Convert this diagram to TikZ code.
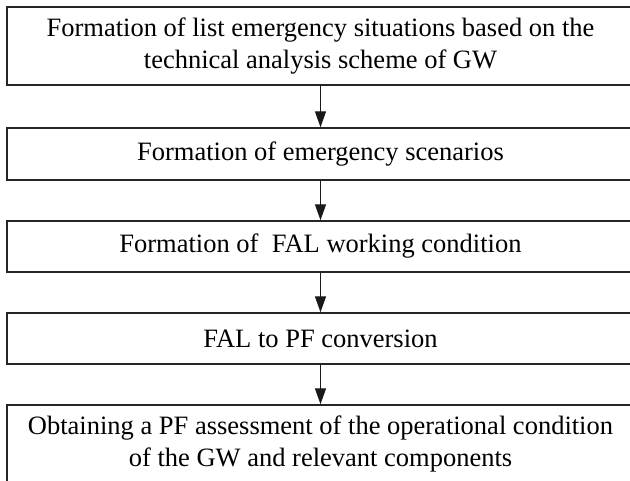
\documentclass[tikz,border=0pt]{standalone}
\usepackage{fontspec}
\setmainfont{Liberation Serif}
\usetikzlibrary{arrows.meta}
\begin{document}
\begin{tikzpicture}[x=1pt,y=-1pt,
  stepbox/.style={draw=black!85,line width=1.4pt,rectangle,minimum width=627pt,inner sep=0pt,align=center,
    font=\fontsize{26.5}{32}\selectfont},
  flow/.style={draw=black!90,line width=1.3pt,-{Triangle[length=16pt,width=11pt]}}]
\useasboundingbox (0,0) rectangle (630,481);
\clip (0,0) rectangle (630,481);
\node[stepbox,minimum height=78pt] (b1) at (320.5,46) {Formation of list emergency situations based on the\\technical analysis scheme of GW};
\node[stepbox,minimum height=52pt] (b2) at (320.5,154) {Formation of emergency scenarios};
\node[stepbox,minimum height=51pt] (b3) at (320.5,246.5) {Formation of~ FAL working condition};
\node[stepbox,minimum height=51pt] (b4) at (320.5,338.5) {FAL to PF conversion};
\node[stepbox,minimum height=78pt] (b5) at (320.5,444) {Obtaining a PF assessment of the operational condition\\of the GW and relevant components};
\draw[flow] (b1) -- (b2);
\draw[flow] (b2) -- (b3);
\draw[flow] (b3) -- (b4);
\draw[flow] (b4) -- (b5);
\end{tikzpicture}
\end{document}
